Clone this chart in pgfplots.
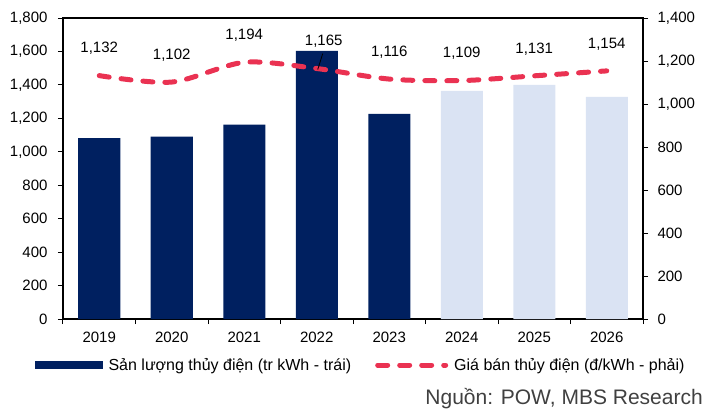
\documentclass[border=0pt]{standalone}
\usepackage{fontspec}
\setmainfont{Liberation Sans}
\usepackage{pgfplots}
\pgfplotsset{compat=1.18}

\definecolor{navy}{RGB}{0,32,96}
\definecolor{lightbar}{RGB}{218,227,243}
\definecolor{pricered}{RGB}{234,50,82}
\definecolor{srcgray}{RGB}{64,64,64}

\pgfplotsset{
  every axis/.append style={
    scale only axis, width=580pt, height=301pt,
    xmin=-0.5, xmax=7.5,
    at={(0pt,0pt)}, anchor=south west,
    /pgf/number format/assume math mode=true,
    /pgf/number format/1000 sep={,},
    tick label style={font=\fontsize{15}{18}\selectfont},
    axis line style={line width=1.1pt},
    tick style={line width=1pt, black},
    tick align=outside, major tick length=5pt,
  },
}

\begin{document}
\begin{tikzpicture}
\begin{axis}[
    ymin=0, ymax=1800,
    ytick={0,200,...,1800},
    ytick pos=left, xtick pos=left,
    yticklabel style={xshift=-7pt},
    xtick={-0.5,0.5,...,7.5}, xticklabels={},
    extra x ticks={0,1,2,3,4,5,6,7},
    extra x tick labels={2019,2020,2021,2022,2023,2024,2025,2026},
    extra x tick style={major tick length=0pt, tick label style={yshift=-9pt}},
    legend style={
        at={(0.513,-0.153)}, anchor=center,
        draw=none, fill=none,
        legend columns=2,
        font=\fontsize{16}{19}\selectfont,
        /tikz/every odd column/.append style={column sep=4pt},
        /tikz/every even column/.append style={column sep=22pt},
    },
]
\addplot[ % san luong, actual
    ybar, bar width=42pt, fill=navy, draw=none,
    legend image code/.code={\fill[navy] (0pt,-4pt) rectangle (68pt,4pt);},
    ] coordinates {(0,1082)(1,1090)(2,1162)(3,1603)(4,1226)};
\addlegendentry{Sản lượng thủy điện (tr kWh - trái)}
\addplot[ % san luong, forecast
    ybar, bar width=42pt, fill=lightbar, draw=none, forget plot,
    ] coordinates {(5,1364)(6,1400)(7,1328)};
\addlegendimage{legend image code/.code={
    \draw[pricered, line width=5pt, line cap=round, dash pattern=on 10pt off 12pt]
      (2pt,0pt) -- (70pt,0pt);}}
\addlegendentry{Giá bán thủy điện (đ/kWh - phải)}
\end{axis}

\begin{axis}[
    ymin=0, ymax=1400,
    ytick={0,200,...,1400},
    axis x line=none, axis y line*=right,
    yticklabel style={xshift=6pt},
]
\addplot[ % gia ban
    pricered, line width=5pt, line cap=round, dash pattern=on 10pt off 12pt,
    smooth,
    nodes near coords,
    visualization depends on={\thisrow{dx} \as \dx},
    every node near coord/.append style={
        anchor=center, yshift=27pt, xshift=\dx, text=black,
        font=\fontsize{15}{18}\selectfont},
    ] table {
x y dx
0 1132 0
1 1102 0
2 1194 0
3 1165 7
4 1116 0
5 1109 0
6 1131 0
7 1154 0
};
\draw[black, line width=0.8pt] (axis cs:3,1165) ++(1pt,-1pt) -- ++(5pt,16pt);
\end{axis}

\node[anchor=base east, inner sep=0pt, text=srcgray, font=\fontsize{21}{25}\selectfont]
    at (640pt,-85pt) {Nguồn: POW, MBS Research};
\pgfresetboundingbox
\path (-63pt,-89pt) rectangle (640pt,319pt);
\end{tikzpicture}
\end{document}
